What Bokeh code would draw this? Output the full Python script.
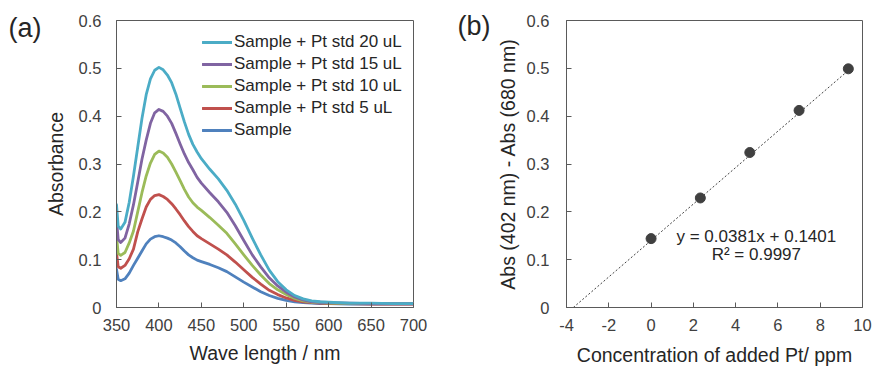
from bokeh.plotting import figure
from bokeh.layouts import row
from bokeh.models import (Range1d, FixedTicker, CustomJSTickFormatter, Label, Legend,
                          LegendItem, LinearAxis)
from bokeh.embed import file_html
from bokeh.resources import INLINE

# ---------------- data: panel (a) UV-Vis spectra ----------------
wavelength = [350, 352, 355, 360, 365, 370, 375, 380, 385, 390, 395, 400, 405, 410, 415,
              420, 425, 430, 435, 440, 445, 450, 460, 470, 480, 490, 500, 510, 520, 530,
              540, 550, 560, 570, 580, 590, 600, 625, 650, 675, 700]
abs_sample = [0.080, 0.059, 0.056, 0.060, 0.072, 0.088, 0.103, 0.118, 0.133, 0.143, 0.148,
              0.150, 0.148, 0.145, 0.141, 0.135, 0.127, 0.118, 0.110, 0.104, 0.099, 0.096,
              0.090, 0.083, 0.075, 0.064, 0.053, 0.043, 0.033, 0.025, 0.019, 0.015, 0.012,
              0.010, 0.009, 0.008, 0.008, 0.007, 0.007, 0.007, 0.007]
abs_5ul = [0.115, 0.085, 0.082, 0.088, 0.102, 0.122, 0.158, 0.185, 0.210, 0.226, 0.234,
           0.236, 0.232, 0.226, 0.217, 0.206, 0.194, 0.181, 0.169, 0.159, 0.150, 0.144,
           0.133, 0.122, 0.110, 0.095, 0.079, 0.063, 0.049, 0.036, 0.027, 0.020, 0.015,
           0.012, 0.010, 0.009, 0.008, 0.008, 0.007, 0.007, 0.007]
abs_10ul = [0.150, 0.113, 0.109, 0.115, 0.135, 0.160, 0.200, 0.240, 0.275, 0.302, 0.320,
            0.327, 0.323, 0.314, 0.300, 0.283, 0.265, 0.247, 0.231, 0.219, 0.210, 0.203,
            0.188, 0.172, 0.155, 0.133, 0.110, 0.088, 0.068, 0.050, 0.037, 0.027, 0.019,
            0.014, 0.011, 0.010, 0.009, 0.008, 0.008, 0.008, 0.008]
abs_15ul = [0.185, 0.142, 0.136, 0.145, 0.175, 0.215, 0.262, 0.310, 0.350, 0.385, 0.407,
            0.414, 0.410, 0.400, 0.385, 0.364, 0.342, 0.321, 0.303, 0.288, 0.272, 0.260,
            0.240, 0.221, 0.199, 0.171, 0.140, 0.110, 0.085, 0.062, 0.045, 0.032, 0.022,
            0.016, 0.012, 0.011, 0.010, 0.009, 0.008, 0.008, 0.008]
abs_20ul = [0.215, 0.170, 0.164, 0.178, 0.220, 0.275, 0.335, 0.395, 0.445, 0.478, 0.496,
            0.502, 0.497, 0.486, 0.470, 0.446, 0.417, 0.388, 0.362, 0.341, 0.325, 0.311,
            0.289, 0.269, 0.245, 0.216, 0.182, 0.145, 0.110, 0.078, 0.054, 0.037, 0.025,
            0.018, 0.014, 0.012, 0.011, 0.009, 0.009, 0.008, 0.008]
series_labels = ["Sample", "Sample + Pt std 5 uL", "Sample + Pt std 10 uL",
                 "Sample + Pt std 15 uL", "Sample + Pt std 20 uL"]
series_colors = ["#4F81BD", "#C0504D", "#9BBB59", "#8064A2", "#4BACC6"]
x_ticks_a = [350, 400, 450, 500, 550, 600, 650, 700]
y_ticks = [0, 0.1, 0.2, 0.3, 0.4, 0.5, 0.6]

# ---------------- data: panel (b) standard addition ----------------
conc_added = [0, 2.33, 4.67, 7.0, 9.33]
abs_diff = [0.144, 0.229, 0.324, 0.412, 0.499]
fit_slope = 0.0381
fit_intercept = 0.1401
fit_text = "y = 0.0381x + 0.1401"
r2_text = "R\u00b2 = 0.9997"
x_ticks_b = [-4, -2, 0, 2, 4, 6, 8, 10]

FONT = "Liberation Sans"
TEXT = "#262626"
TICKTXT = "#404040"
FRAME = "#5a5a5a"
fmt_code = "return String(Number(tick.toFixed(2)));"


def style(p, xticks, yticks, xlabel, ylabel, ylab_standoff, ytick_standoff, xlab_standoff, xtick_standoff):
    p.xgrid.visible = False
    p.ygrid.visible = False
    p.outline_line_color = FRAME
    p.outline_line_width = 1
    p.background_fill_color = "white"
    p.border_fill_color = "white"
    p.xaxis.ticker = FixedTicker(ticks=xticks)
    p.yaxis.ticker = FixedTicker(ticks=yticks)
    for ax in (p.xaxis[0], p.yaxis[0]):
        ax.formatter = CustomJSTickFormatter(code=fmt_code)
        ax.axis_line_color = FRAME
        ax.major_tick_line_color = FRAME
        ax.major_tick_in = 5
        ax.major_tick_out = 0
        ax.minor_tick_in = 0
        ax.minor_tick_out = 0
        ax.major_label_text_font = FONT
        ax.major_label_text_font_size = "16.5px"
        ax.major_label_text_color = TICKTXT
        ax.axis_label_text_font = FONT
        ax.axis_label_text_font_size = "19.5px"
        ax.axis_label_text_font_style = "normal"
        ax.axis_label_text_color = TEXT
    p.xaxis.axis_label = xlabel
    p.yaxis.axis_label = ylabel
    p.yaxis.axis_label_standoff = ylab_standoff
    p.yaxis.major_label_standoff = ytick_standoff
    p.xaxis.axis_label_standoff = xlab_standoff
    p.xaxis.major_label_standoff = xtick_standoff


def panel_tag(p, text, y, standoff):
    # panel letter drawn as a bare extra axis on the left, outside the frame
    ax = LinearAxis(ticker=FixedTicker(ticks=[y]),
                    formatter=CustomJSTickFormatter(code="return '%s';" % text),
                    axis_line_alpha=0, major_tick_in=0, major_tick_out=0,
                    minor_tick_in=0, minor_tick_out=0,
                    major_label_standoff=standoff,
                    major_label_text_font=FONT, major_label_text_font_size="27px",
                    major_label_text_color=TEXT)
    p.add_layout(ax, "left")


# ---------------- panel (a) ----------------
pa = figure(width=438, height=368, output_backend="svg", toolbar_location=None,
            x_range=Range1d(350, 700), y_range=Range1d(0, 0.6),
            min_border_left=116, min_border_right=25, min_border_top=19, min_border_bottom=61)
style(pa, x_ticks_a, y_ticks, "Wave length / nm", "Absorbance", 9, 15, 8, 11)

series = [abs_sample, abs_5ul, abs_10ul, abs_15ul, abs_20ul]
renderers = []
for ys, col in zip(series, series_colors):
    r = pa.line(wavelength, ys, line_color=col, line_width=2.8, line_join="round", line_cap="round")
    renderers.append(r)

items = [LegendItem(label=lab, renderers=[r]) for lab, r in zip(series_labels, renderers)][::-1]
leg = Legend(items=items, location=(85, 166), border_line_alpha=0, background_fill_alpha=0,
             label_text_font=FONT, label_text_font_size="17px", label_text_color=TEXT,
             glyph_width=30, glyph_height=20, label_height=20, label_standoff=2,
             spacing=2, padding=1, margin=0)
pa.add_layout(leg)
panel_tag(pa, "(a)", 0.585, 0)

# ---------------- panel (b) ----------------
pb = figure(width=435, height=368, output_backend="svg", toolbar_location=None,
            x_range=Range1d(-4, 10), y_range=Range1d(0, 0.6),
            min_border_left=128, min_border_right=11, min_border_top=20, min_border_bottom=57)
style(pb, x_ticks_b, y_ticks, "Concentration of added Pt/ ppm", "Abs (402 nm) - Abs (680 nm)", 5, 17, 10, 11)

fit_x = [-fit_intercept / fit_slope, max(conc_added)]
fit_y = [fit_slope * v + fit_intercept for v in fit_x]
pb.line(fit_x, fit_y, line_color="#404040", line_width=1, line_dash="2 2")
pb.scatter(conc_added, abs_diff, size=10, fill_color="#404040", line_color="#404040", marker="circle")

pb.add_layout(Label(x=4.98, y=0.149, text=fit_text, text_font=FONT,
                    text_font_size="17px", text_color=TEXT, text_align="center",
                    text_baseline="middle"))
pb.add_layout(Label(x=4.98, y=0.110, text=r2_text, text_font=FONT,
                    text_font_size="17px", text_color=TEXT, text_align="center",
                    text_baseline="middle"))
panel_tag(pb, "(b)", 0.588, 3)

layout = row(pa, pb)
open("out.html", "w").write(file_html(layout, INLINE))
